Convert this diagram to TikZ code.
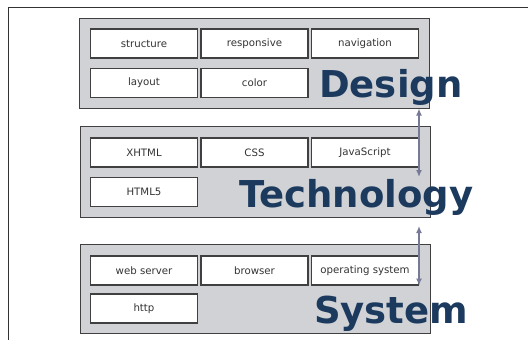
\documentclass[tikz,border=0pt]{standalone}
\usepackage{fontspec}
\setmainfont{DejaVu Sans}
\usetikzlibrary{arrows.meta}
\definecolor{layergray}{RGB}{208,210,213}
\definecolor{framegray}{RGB}{64,64,64}
\definecolor{titleblue}{RGB}{28,58,94}
\definecolor{arrowgray}{RGB}{118,122,150}
\tikzset{
  layer/.style={draw=framegray, line width=1pt, fill=layergray, minimum width=350pt, inner sep=0pt},
  item/.style={draw=framegray, line width=1.2pt, fill=white, minimum width=107pt, minimum height=29pt, inner sep=0pt, font=\fontsize{10.2}{12}\selectfont, text=black!80},
  title/.style={anchor=base west, inner sep=0pt, text=titleblue, font=\bfseries\fontsize{37}{42}\selectfont},
  link/.style={arrowgray, line width=1.5pt, {Latex[length=7pt,width=6pt]}-{Latex[length=7pt,width=6pt]}},
}
\begin{document}
\begin{tikzpicture}[x=1pt, y=-1pt]
    \useasboundingbox (0,0) rectangle (528,340);
    % Rahmen
    \draw[line width=1pt, black!80] (8,340) -- (8,7) -- (528,7);
    % Design
    \node[layer, minimum height=90pt] (design) at (254.5,63) {};
    \node[item] (structure) at (144,43.5) {structure};
    \node[item] (responsive) at (254.5,43.5) {responsive};
    \node[item] (navigation) at (365,43.5) {navigation};
    \node[item] (layout) at (144,83) {layout};
    \node[item] (color) at (254.5,83) {color};
    \node[title] (designlabel) at (319,97) {Design};
    % Technology
    \node[layer, minimum height=91pt] (technology) at (255,171.5) {};
    \node[item] (xhtml) at (144,152.5) {XHTML};
    \node[item] (css) at (254.5,152.5) {CSS};
    \node[item] (javascript) at (365,152.5) {JavaScript};
    \node[item] (htmlfive) at (144,192) {HTML5};
    \node[title] (technologylabel) at (239,207) {Technology};
    % System
    \node[layer, minimum height=89pt] (system) at (255,288.5) {};
    \node[item] (webserver) at (144,270.5) {web server};
    \node[item] (browser) at (254.5,270.5) {browser};
    \node[item] (os) at (365,270.5) {operating system};
    \node[item] (http) at (144,308.5) {http};
    \node[title] (systemlabel) at (314,323) {System};
    % Pfeile
    \coordinate (linkone) at (419,177);
    \coordinate (linktwo) at (419,226);
    \draw[link] (design.south -| linkone) -- (linkone);
    \draw[link] (linktwo) -- (os.south -| linktwo);
\end{tikzpicture}
\end{document}
